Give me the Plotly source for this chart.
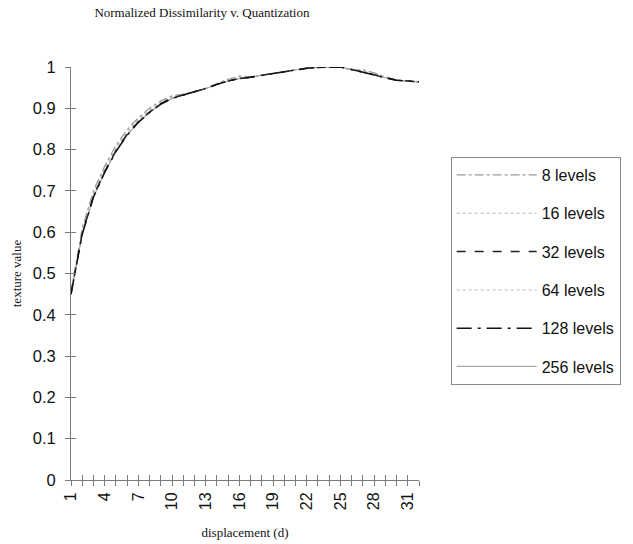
import plotly.graph_objects as go

# displacement values d = 1..32
displacement = list(range(1, 33))

# normalized dissimilarity for each quantization level
levels_8 = [0.455, 0.610, 0.700, 0.760, 0.810, 0.848, 0.877, 0.900, 0.918, 0.930, 0.934, 0.940,
            0.948, 0.960, 0.970, 0.978, 0.976, 0.980, 0.984, 0.988, 0.993, 0.997, 0.999, 1.000,
            1.000, 0.992, 0.993, 0.986, 0.976, 0.969, 0.966, 0.963]
levels_16 = [0.452, 0.604, 0.694, 0.754, 0.803, 0.842, 0.872, 0.895, 0.914, 0.927, 0.933, 0.940,
             0.948, 0.959, 0.968, 0.976, 0.976, 0.981, 0.985, 0.987, 0.993, 0.997, 0.999, 1.000,
             1.000, 0.993, 0.991, 0.984, 0.975, 0.968, 0.966, 0.964]
levels_32 = [0.450, 0.597, 0.687, 0.747, 0.797, 0.837, 0.867, 0.891, 0.911, 0.925, 0.932, 0.940,
             0.948, 0.958, 0.966, 0.972, 0.975, 0.980, 0.984, 0.988, 0.993, 0.997, 0.999, 1.000,
             1.000, 0.994, 0.988, 0.981, 0.974, 0.968, 0.966, 0.964]
levels_64 = [0.450, 0.596, 0.686, 0.746, 0.796, 0.836, 0.866, 0.890, 0.910, 0.924, 0.932, 0.940,
             0.948, 0.958, 0.966, 0.972, 0.975, 0.980, 0.984, 0.988, 0.993, 0.997, 0.999, 1.000,
             1.000, 0.994, 0.988, 0.981, 0.974, 0.968, 0.966, 0.964]
levels_128 = [0.450, 0.595, 0.685, 0.745, 0.795, 0.835, 0.866, 0.890, 0.910, 0.924, 0.932, 0.940,
              0.948, 0.958, 0.966, 0.972, 0.975, 0.980, 0.984, 0.988, 0.993, 0.997, 0.999, 1.000,
              1.000, 0.994, 0.988, 0.981, 0.974, 0.968, 0.966, 0.964]
levels_256 = [0.450, 0.595, 0.685, 0.745, 0.795, 0.835, 0.866, 0.890, 0.910, 0.924, 0.932, 0.940,
              0.948, 0.958, 0.966, 0.972, 0.975, 0.980, 0.984, 0.988, 0.993, 0.997, 0.999, 1.000,
              1.000, 0.994, 0.988, 0.981, 0.974, 0.968, 0.966, 0.964]

series_names = ["8 levels", "16 levels", "32 levels", "64 levels", "128 levels", "256 levels"]
series_values = [levels_8, levels_16, levels_32, levels_64, levels_128, levels_256]
series_colors = ["#9a9a9a", "#b4b4b4", "#222222", "#c4c4c4", "#111111", "#a8a8a8"]
series_dashes = ["dashdot", "dot", "dash", "dot", "longdashdot", "solid"]
series_widths = [1.3, 1.2, 1.5, 1.2, 1.5, 1.2]

x_tick_labels = [str(d) if (d - 1) % 3 == 0 else "" for d in displacement]

SERIF = "Liberation Serif, Times New Roman, serif"
SANS = "Liberation Sans, Arial, sans-serif"

fig = go.Figure()
# lighter series first so the dark ones sit on top
order = [0, 1, 3, 5, 2, 4]
for i in order:
    fig.add_trace(go.Scatter(
        x=displacement, y=series_values[i], name=series_names[i], mode="lines",
        line=dict(color=series_colors[i], width=series_widths[i], dash=series_dashes[i]),
        legendgroup=series_names[i], legendrank=i + 1, cliponaxis=False,
    ))

# invisible trace that carries the inner tick marks
fig.add_trace(go.Scatter(x=[displacement[0]], y=[0], xaxis="x2", yaxis="y2",
                         mode="markers", marker=dict(opacity=0), showlegend=False,
                         hoverinfo="skip"))

axis_col = "#7a7a7a"
fig.update_layout(
    width=633, height=544,
    margin=dict(l=71, r=211, t=67, b=64),
    paper_bgcolor="white", plot_bgcolor="white",
    title=dict(text="Normalized Dissimilarity v. Quantization",
               font=dict(family=SERIF, size=13, color="#111"),
               x=0.319, xanchor="center", y=0.985, yanchor="top"),
    xaxis=dict(range=[1, 32], tickmode="array", tickvals=displacement, ticktext=x_tick_labels,
               tickangle=-90, ticks="outside", ticklen=5, tickcolor=axis_col, automargin=False,
               showline=True, linecolor=axis_col, linewidth=1, showgrid=False, zeroline=False,
               tickfont=dict(family=SANS, size=16, color="#111"),
               title=dict(text="displacement (d)", font=dict(family=SERIF, size=13, color="#111"),
                          standoff=18)),
    yaxis=dict(range=[0, 1], dtick=0.1, tick0=0, ticks="outside", ticklen=5, tickcolor=axis_col,
               showline=True, linecolor=axis_col, linewidth=1, showgrid=False, zeroline=False,
               automargin=False,
               tickfont=dict(family=SANS, size=16.5, color="#111"), ticklabelstandoff=6,
               title=dict(text="texture value", font=dict(family=SERIF, size=13, color="#111"),
                          standoff=8)),
    xaxis2=dict(overlaying="x", matches="x", range=[1, 32], tickmode="array", tickvals=displacement,
                ticks="inside", ticklen=5, tickcolor=axis_col, showticklabels=False,
                showgrid=False, zeroline=False, showline=False, side="bottom", anchor="y2"),
    yaxis2=dict(overlaying="y", matches="y", range=[0, 1], dtick=0.1, ticks="inside", ticklen=5,
                tickcolor=axis_col, showticklabels=False, showgrid=False, zeroline=False,
                showline=False, side="left", anchor="x2"),
    legend=dict(x=1.091, y=0.782, xanchor="left", yanchor="top",
                bordercolor="#8a8a8a", borderwidth=1, bgcolor="white",
                font=dict(family=SANS, size=16, color="#111"),
                tracegroupgap=14.5, itemwidth=80, traceorder="grouped"),
    showlegend=True,
)

fig.write_html("out.html")
